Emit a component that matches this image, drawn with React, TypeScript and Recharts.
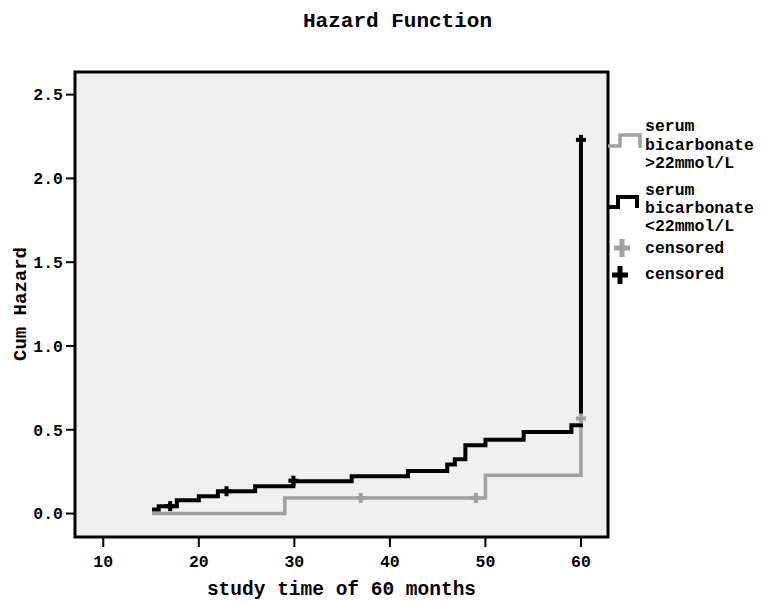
import { ComposedChart, Line, Scatter, XAxis, YAxis, ReferenceArea } from 'recharts';

// cumulative hazard, serum bicarbonate < 22 mmol/L (black)
const lowTimes = [15.1, 15.8, 17.7, 20.0, 22.0, 25.9, 29.9, 36.0, 41.9, 46.0, 46.8, 47.9, 50.0, 54.0, 59.0, 60.0];
const lowHazard = [0.024, 0.044, 0.079, 0.103, 0.133, 0.163, 0.193, 0.223, 0.254, 0.292, 0.324, 0.408, 0.441, 0.487, 0.527, 2.23];
const lowCensorTimes = [17.0, 22.9, 29.9, 60.0];
const lowCensorHazard = [0.044, 0.133, 0.196, 2.23];

// cumulative hazard, serum bicarbonate > 22 mmol/L (grey)
const highTimes = [15.1, 29.0, 50.0, 60.0];
const highHazard = [0.0, 0.093, 0.229, 0.567];
const highCensorTimes = [36.95, 49.0, 60.0];
const highCensorHazard = [0.093, 0.093, 0.567];

const xTicks = [10, 20, 30, 40, 50, 60];
const yTicks = [0, 0.5, 1.0, 1.5, 2.0, 2.5];

const X_DOMAIN: [number, number] = [7.04, 62.83];
const Y_DOMAIN: [number, number] = [-0.14, 2.635];

const GREY = '#a0a0a0';
const FONT = '"Liberation Mono", "DejaVu Sans Mono", monospace';

const toRows = (ts: number[], hs: number[]) => ts.map((t, i) => ({ t, h: hs[i] }));

const lowData = toRows(lowTimes, lowHazard);
const highData = toRows(highTimes, highHazard);
const lowCensor = toRows(lowCensorTimes, lowCensorHazard);
const highCensor = toRows(highCensorTimes, highCensorHazard);

function plusShape(color: string) {
  return (props: any) => {
    const { cx, cy } = props;
    if (cx == null || cy == null) return <g />;
    return (
      <g>
        <line x1={cx - 5} x2={cx + 5} y1={cy} y2={cy} stroke={color} strokeWidth={4} />
        <line x1={cx} x2={cx} y1={cy - 5} y2={cy + 5} stroke={color} strokeWidth={4} />
      </g>
    );
  };
}

const tickStyle = { fontFamily: FONT, fontWeight: 700, fontSize: 16.5, fill: '#000' };

function SideLegend() {
  const txt = { fontFamily: FONT, fontWeight: 700, fontSize: 16.5, fill: '#000' };
  return (
    <svg width={164} height={190} style={{ position: 'absolute', left: 600, top: 110 }}>
      <path d="M8 36 H20 V25 H40 V38" fill="none" stroke={GREY} strokeWidth={3.5} />
      <text x={45} y={21} {...txt}>serum</text>
      <text x={45} y={40} {...txt}>bicarbonate</text>
      <text x={45} y={58} {...txt}>&gt;22mmol/L</text>

      <path d="M8 97 H18 V87 H37 V98" fill="none" stroke="#000" strokeWidth={4} />
      <text x={45} y={85} {...txt}>serum</text>
      <text x={45} y={103} {...txt}>bicarbonate</text>
      <text x={45} y={121} {...txt}>&lt;22mmol/L</text>

      <line x1={14} x2={30} y1={138} y2={138} stroke={GREY} strokeWidth={5} />
      <line x1={22} x2={22} y1={129} y2={147} stroke={GREY} strokeWidth={5} />
      <text x={45} y={143} {...txt}>censored</text>

      <line x1={12} x2={28} y1={165} y2={165} stroke="#000" strokeWidth={5} />
      <line x1={20} x2={20} y1={156} y2={174} stroke="#000" strokeWidth={5} />
      <text x={45} y={169} {...txt}>censored</text>
    </svg>
  );
}

export default function App() {
  return (
    <div style={{ position: 'absolute', left: 0, top: 0, width: 764, height: 603, background: '#fff' }}>
      <div
        style={{
          position: 'absolute',
          left: 0,
          width: 795,
          top: 10,
          textAlign: 'center',
          fontFamily: FONT,
          fontWeight: 700,
          fontSize: 21,
          lineHeight: '24px',
        }}
      >
        Hazard Function
      </div>
      <ComposedChart width={764} height={603} margin={{ top: 72, right: 156, bottom: 0, left: 0 }}>
        <XAxis
          dataKey="t"
          type="number"
          domain={X_DOMAIN}
          allowDataOverflow
          ticks={xTicks}
          height={66}
          axisLine={false}
          tickLine={{ stroke: '#000', strokeWidth: 2 }}
          tickSize={10}
          tickMargin={8}
          tick={tickStyle}
          label={{
            value: 'study time of 60 months',
            position: 'insideBottom',
            offset: 8,
            style: { fontFamily: FONT, fontWeight: 700, fontSize: 19.5, fill: '#000' },
          }}
        />
        <YAxis
          dataKey="h"
          type="number"
          domain={Y_DOMAIN}
          allowDataOverflow
          ticks={yTicks}
          width={75}
          axisLine={false}
          tickLine={{ stroke: '#000', strokeWidth: 2 }}
          tickSize={9}
          tickMargin={3}
          tick={tickStyle}
          tickFormatter={(v: number) => v.toFixed(1)}
          label={{
            content: () => (
              <text
                x={21}
                y={304}
                transform="rotate(-90 21 304)"
                textAnchor="middle"
                dominantBaseline="central"
                style={{ fontFamily: FONT, fontWeight: 700, fontSize: 19, fill: '#000' }}
              >
                Cum Hazard
              </text>
            ),
          }}
        />
        <ReferenceArea
          x1={X_DOMAIN[0]}
          x2={X_DOMAIN[1]}
          y1={Y_DOMAIN[0]}
          y2={Y_DOMAIN[1]}
          fill="#f0f0f0"
          fillOpacity={1}
          stroke="#000"
          strokeWidth={3}
        />
        <Line
          data={highData}
          dataKey="h"
          type="stepAfter"
          stroke={GREY}
          strokeWidth={3.5}
          dot={false}
          activeDot={false}
          isAnimationActive={false}
        />
        <Line
          data={lowData}
          dataKey="h"
          type="stepAfter"
          stroke="#000"
          strokeWidth={4}
          dot={false}
          activeDot={false}
          isAnimationActive={false}
        />
        <Scatter data={highCensor} dataKey="h" shape={plusShape(GREY)} isAnimationActive={false} />
        <Scatter data={lowCensor} dataKey="h" shape={plusShape('#000')} isAnimationActive={false} />
      </ComposedChart>
      <SideLegend />
    </div>
  );
}
